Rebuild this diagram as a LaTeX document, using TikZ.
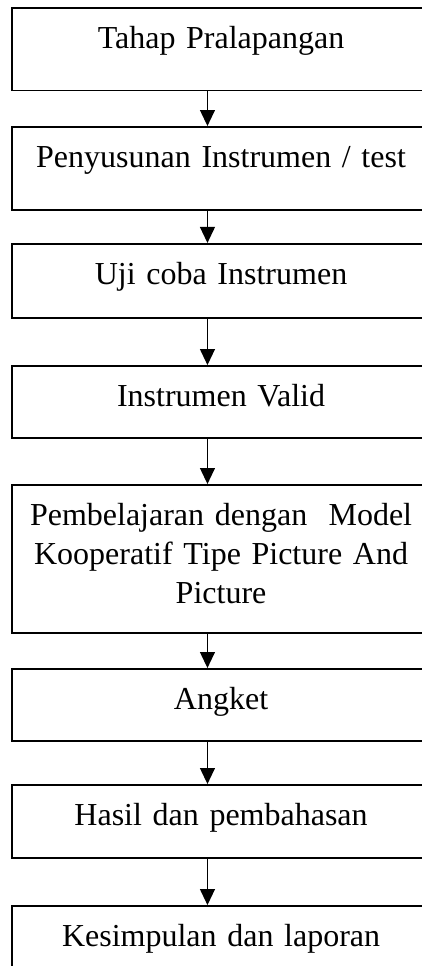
\documentclass[tikz,border=0pt]{standalone}
\usepackage{fontspec}
\setmainfont{Liberation Serif}
\usetikzlibrary{arrows.meta}

\begin{document}
\begin{tikzpicture}[
  stage/.style={draw, line width=0.6pt, rectangle, anchor=north,
    text width=145pt, inner xsep=5.8pt, inner ysep=0pt, align=center,
    text height=15.4pt, font=\fontsize{12}{14.6}\selectfont},
  flow/.style={line width=0.5pt, -{Triangle[length=6pt,width=5.6pt]}}
]
 \clip (0,0) rectangle (158.25pt,-362.25pt);

 \coordinate (ax) at (77.8pt,0);

\node[stage, text depth=15.7pt] (t1) at (82.9pt,-2.6pt) {Tahap Pralapangan};
\node[stage, text depth=15.7pt] (t2) at (82.9pt,-47.25pt) {Penyusunan Instrumen / test};
\node[stage, text depth=12.35pt] (t3) at (82.9pt,-91.1pt) {Uji coba Instrumen};
\node[stage, text depth=11.6pt] (t4) at (82.9pt,-136.9pt) {Instrumen Valid};
\node[stage, text depth=40.1pt] (t5) at (82.9pt,-181.5pt)
  {Pembelajaran dengan\ \ Model\\ Kooperatif Tipe Picture And\\ Picture};
\node[stage, text depth=11.6pt] (t6) at (82.9pt,-250.5pt) {Angket};
\node[stage, text depth=12pt] (t7) at (82.9pt,-294pt) {Hasil dan pembahasan};
\node[stage, text depth=14.6pt] (t8) at (82.9pt,-339.4pt) {Kesimpulan dan laporan};

% arrows between the stages
\foreach \a/\b in {t1/t2,t2/t3,t3/t4,t4/t5,t5/t6,t6/t7,t7/t8}
  \draw[flow] (\a.south -| ax) -- (\b.north -| ax);

\end{tikzpicture}
\end{document}
